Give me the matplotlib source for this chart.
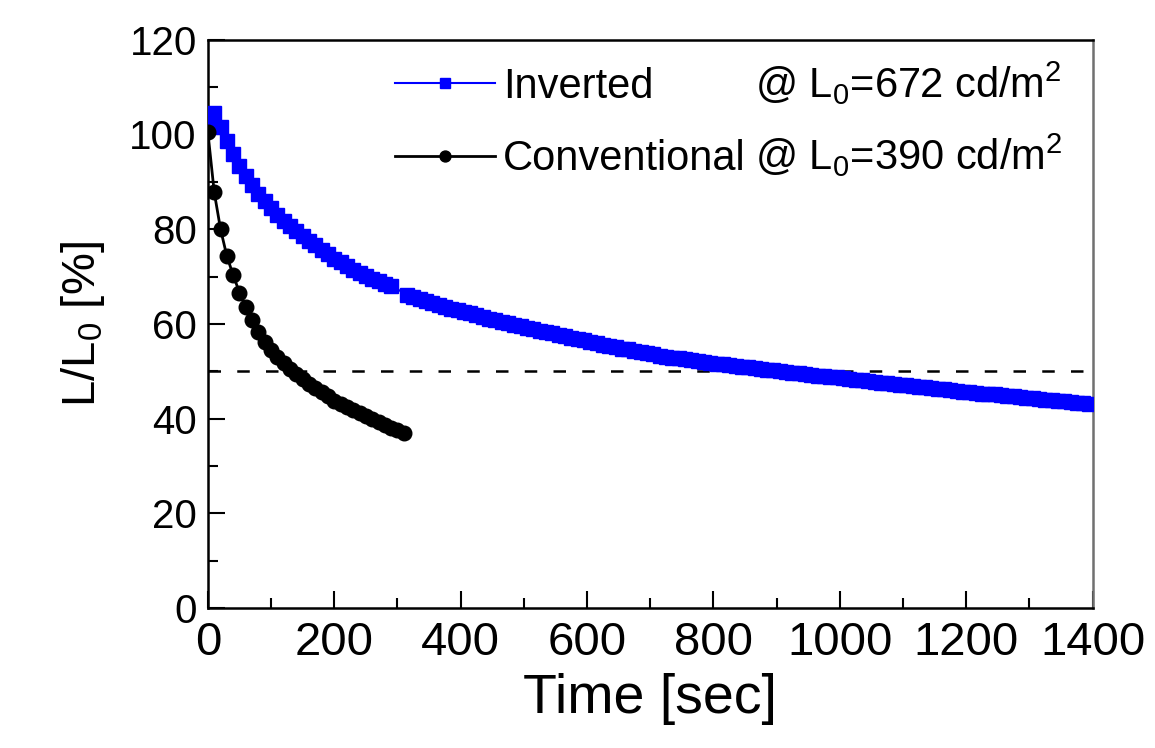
import numpy as np
import matplotlib.pyplot as plt
from matplotlib.ticker import MultipleLocator
from matplotlib.transforms import IdentityTransform

NARROW = ['Liberation Sans Narrow', 'Liberation Sans']
REG = ['Liberation Sans', 'DejaVu Sans']

plt.rcParams['font.family'] = REG
plt.rcParams['mathtext.fontset'] = 'custom'
plt.rcParams['mathtext.rm'] = 'Liberation Sans'
plt.rcParams['mathtext.it'] = 'Liberation Sans:italic'

# inverted device, two runs of readings (gap near 300 s)
inv_t = list(range(0, 300, 10)) + list(range(315, 1400, 10))
inv_L = [103.0, 104.5, 101.6, 98.5, 95.8, 93.4, 91.2, 89.3, 87.5, 85.9,
         84.4, 83.0, 81.8, 80.7, 79.6, 78.6, 77.6, 76.6, 75.6, 74.7,
         73.8, 73.0, 72.2, 71.4, 70.7, 70.1, 69.5, 69.0, 68.5, 68.0,
         # second run
         66.2, 65.7, 65.3, 64.8, 64.4, 64.0, 63.6, 63.2, 62.9, 62.5,
         62.2, 61.8, 61.5, 61.1, 60.8, 60.5, 60.1, 59.8, 59.5,
         59.2, 58.9, 58.6, 58.3, 58.0, 57.7, 57.4, 57.1,
         56.8, 56.5, 56.2, 55.9, 55.6,
         55.3, 55.1, 54.8, 54.6, 54.3, 54.1, 53.8, 53.6, 53.3, 53.1, 52.9, 52.7,
         52.5, 52.3, 52.1, 52.0, 51.8, 51.6, 51.5, 51.3, 51.1, 51.0,
         50.8, 50.6, 50.5, 50.3, 50.2, 50.0, 49.9, 49.7,
         49.6, 49.4, 49.3, 49.1, 49.0, 48.8, 48.7, 48.5, 48.4,
         48.2, 48.1, 47.9, 47.8, 47.6, 47.5, 47.3, 47.2,
         47.0, 46.9, 46.7, 46.6, 46.5, 46.3, 46.2, 46.0, 45.9, 45.7,
         45.6, 45.5, 45.3, 45.2, 45.1, 44.9, 44.8, 44.7, 44.5, 44.4,
         44.3, 44.2, 44.0, 43.9, 43.8, 43.7, 43.5, 43.4, 43.3, 43.1]

conv_t = list(range(0, 320, 10))
conv_L = [100.4, 87.8, 80.0, 74.3, 70.3, 66.6, 63.6, 60.9, 58.3, 56.2,
          54.4, 53.0, 51.7, 50.5, 49.4, 48.4, 47.4, 46.5, 45.6, 44.7,
          43.8, 43.1, 42.4, 41.8, 41.1, 40.5, 39.9, 39.3, 38.7, 38.1,
          37.6, 37.0]

labels = ['Inverted', 'Conventional']
lum0 = ['@ L$_0$=672 cd/m$^2$', '@ L$_0$=390 cd/m$^2$']

fig, ax = plt.subplots(figsize=(11.55, 7.48), dpi=100)
fig.subplots_adjust(left=0.180, right=0.946, bottom=0.187, top=0.947)

ax.axhline(50, color='black', lw=1.8, ls=(0, (5, 6.5)), zorder=1)
ax.plot(inv_t, inv_L, color='#0000ff', lw=1.5, marker='s', ms=10,
        label=labels[0], zorder=3)
ax.plot(conv_t, conv_L, color='black', lw=2, marker='o', ms=10.5,
        label=labels[1], zorder=3)

ax.set_xlim(0, 1400)
ax.set_ylim(0, 120)
ax.xaxis.set_major_locator(MultipleLocator(200))
ax.xaxis.set_minor_locator(MultipleLocator(100))
ax.yaxis.set_major_locator(MultipleLocator(20))
ax.yaxis.set_minor_locator(MultipleLocator(10))
ax.tick_params(which='both', direction='in', top=False, right=False, width=1.5)
ax.tick_params(which='major', length=12)
ax.tick_params(which='minor', length=7)
ax.tick_params(axis='x', pad=9)
ax.tick_params(axis='y', pad=8)
for lab in ax.get_xticklabels():
    lab.set_family(NARROW)
    lab.set_fontsize(34)
for lab in ax.get_yticklabels():
    lab.set_family(REG)
    lab.set_fontsize(29)

for s in ax.spines.values():
    s.set_linewidth(1.8)
ax.spines['right'].set_color('#707070')

ax.set_xlabel('Time [sec]', family=NARROW, fontsize=40, labelpad=6)
ax.set_ylabel('L/L$_0$ [%]', family=REG, fontsize=34, labelpad=16)

leg = ax.legend(loc='upper left', bbox_to_anchor=(0.211, 0.952), frameon=False,
                prop={'family': NARROW, 'size': 30}, handlelength=2.4,
                handletextpad=0.2, labelspacing=0.78, borderpad=0,
                borderaxespad=0, markerscale=0.75)

# second column of the legend, lined up on the '@'
fig.canvas.draw()
texts = leg.get_texts()
x_at = max(t.get_window_extent().x1 for t in texts) + 9
for t, s in zip(texts, lum0):
    bx, by = t.get_transform().transform(t.get_position())
    fig.text(x_at, by, s, transform=IdentityTransform(), family=NARROW,
             fontsize=30, va='baseline', ha='left')

fig.savefig('out.png', dpi=100)
